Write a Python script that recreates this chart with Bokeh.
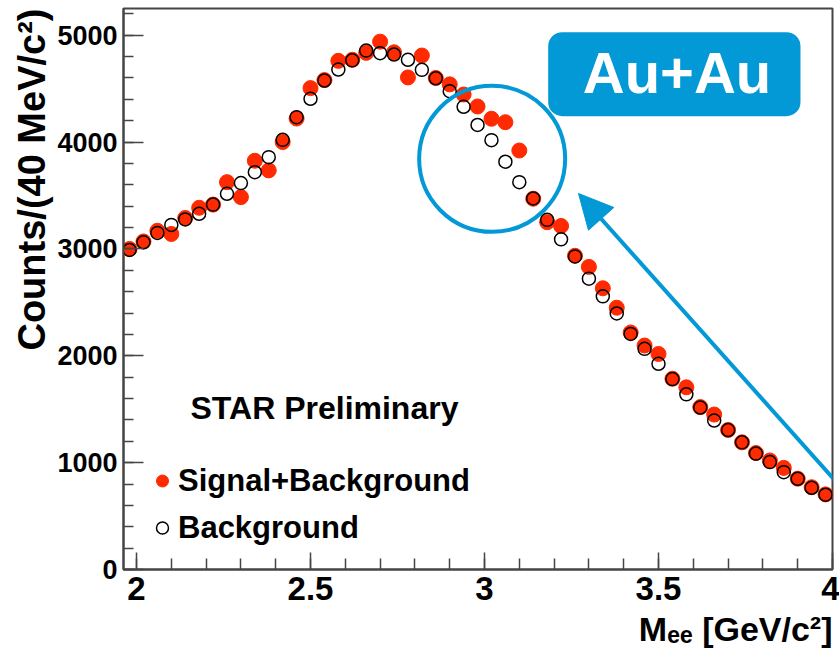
import math
from bokeh.plotting import figure
from bokeh.models import (Range1d, SingleIntervalTicker, Label, BoxAnnotation,
                          Arrow, NormalHead, Legend, LegendItem, Title)
from bokeh.embed import file_html
from bokeh.resources import INLINE

# ---- data ----
mass = [1.98, 2.02, 2.06, 2.10, 2.14, 2.18, 2.22, 2.26, 2.30, 2.34,
        2.38, 2.42, 2.46, 2.50, 2.54, 2.58, 2.62, 2.66, 2.70, 2.74,
        2.78, 2.82, 2.86, 2.90, 2.94, 2.98, 3.02, 3.06, 3.10, 3.14,
        3.18, 3.22, 3.26, 3.30, 3.34, 3.38, 3.42, 3.46, 3.50, 3.54,
        3.58, 3.62, 3.66, 3.70, 3.74, 3.78, 3.82, 3.86, 3.90, 3.94, 3.98]

signal_plus_bg = [3000, 3070, 3170, 3140, 3290, 3385, 3415, 3625, 3485, 3825,
                  3735, 4000, 4220, 4505, 4580, 4760, 4770, 4835, 4940, 4840,
                  4605, 4810, 4600, 4540, 4445, 4333, 4218, 4186, 3921, 3470,
                  3250, 3215, 2936, 2832, 2632, 2450, 2218, 2096, 2017, 1785,
                  1705, 1520, 1450, 1306, 1190, 1090, 1020, 951, 850, 770, 703]

background = [2990, 3062, 3150, 3225, 3276, 3329, 3415, 3516, 3616, 3718,
              3859, 4021, 4233, 4405, 4576, 4679, 4765, 4856, 4832, 4819,
              4770, 4676, 4597, 4476, 4330, 4160, 4018, 3816, 3625, 3472,
              3272, 3090, 2930, 2722, 2556, 2396, 2205, 2065, 1925, 1782,
              1639, 1516, 1394, 1305, 1190, 1085, 1005, 911, 849, 765, 700]

x_ticks_interval = 0.5
y_ticks_interval = 1000

RED = "#ff2a00"
BLUE = "#0398d6"
FONT = "Liberation Sans"
AXIS_COL = "#454545"

p = figure(width=839, height=659,
           x_range=Range1d(1.9626, 4.0), y_range=Range1d(0, 5250),
           output_backend="svg", toolbar_location=None,
           min_border_left=123, min_border_right=7,
           min_border_top=8, min_border_bottom=90)
p.background_fill_color = "white"
p.border_fill_color = "white"
p.outline_line_color = AXIS_COL
p.outline_line_width = 2
p.xgrid.visible = False
p.ygrid.visible = False

# axes
p.xaxis.ticker = SingleIntervalTicker(interval=x_ticks_interval, num_minor_ticks=5)
p.yaxis.ticker = SingleIntervalTicker(interval=y_ticks_interval, num_minor_ticks=5)
for ax in (p.xaxis, p.yaxis):
    ax.axis_line_color = AXIS_COL
    ax.axis_line_width = 2
    ax.major_tick_line_color = AXIS_COL
    ax.minor_tick_line_color = AXIS_COL
    ax.major_tick_line_width = 1.5
    ax.minor_tick_line_width = 1.5
    ax.major_tick_out = 0
    ax.minor_tick_out = 0
    ax.major_label_text_font = FONT
    ax.major_label_text_font_style = "bold"
    ax.major_label_text_color = "black"
p.yaxis.major_tick_in = 20
p.yaxis.minor_tick_in = 10
p.xaxis.major_tick_in = 17
p.xaxis.minor_tick_in = 11
p.yaxis.major_label_text_font_size = "27px"
p.xaxis.major_label_text_font_size = "33px"
p.yaxis.major_label_standoff = 6
p.xaxis.major_label_standoff = 7

# axis titles (outside the frame)
p.add_layout(Title(text="Counts/(40 MeV/c²)", align="right", standoff=4,
                   text_font=FONT, text_font_style="bold", text_font_size="38px",
                   text_color="black"), "left")
p.add_layout(Title(text="Mₑₑ [GeV/c²]", align="right", standoff=11,
                   text_font=FONT, text_font_style="bold", text_font_size="34px",
                   text_color="black"), "below")

# data markers
r_sb = p.scatter(mass, signal_plus_bg, marker="circle", size=15,
                 fill_color=RED, line_color=RED, line_width=1)
r_bg = p.scatter(mass, background, marker="circle", size=13,
                 fill_alpha=0, line_color="black", line_width=1.5)

# legend
legend = Legend(items=[LegendItem(label="Signal+Background", renderers=[r_sb]),
                       LegendItem(label="Background", renderers=[r_bg])],
                location=(24, 18), orientation="vertical",
                glyph_width=30, glyph_height=47, label_standoff=1,
                padding=0, margin=0, spacing=0,
                border_line_alpha=0, background_fill_alpha=0,
                label_text_font=FONT, label_text_font_style="bold",
                label_text_font_size="31px", label_text_color="black")
p.add_layout(legend, "center")

p.add_layout(Label(x=2.1552, y=1515, text="STAR Preliminary",
                   text_font=FONT, text_font_style="bold", text_font_size="32px",
                   text_color="black", text_align="left", text_baseline="alphabetic"))

# highlight circle
circle_x, circle_y = [3.022], [3843]
p.circle(circle_x, circle_y, radius=73, radius_units="screen",
         fill_alpha=0, line_color=BLUE, line_width=4)

# arrow
p.add_layout(Arrow(end=NormalHead(size=34, fill_color=BLUE, line_color=BLUE),
                   x_start=4.0201, y_start=786, x_end=3.2701, y_end=3519,
                   line_color=BLUE, line_width=4))

# Au+Au box
p.add_layout(BoxAnnotation(left=3.183, right=3.908, bottom=4242, top=5028,
                           fill_color=BLUE, fill_alpha=1, line_alpha=0,
                           border_radius=14))
p.add_layout(Label(x=3.5532, y=4651, text="Au+Au", text_font=FONT,
                   text_font_style="bold", text_font_size="58px",
                   text_color="white", text_align="center",
                   text_baseline="alphabetic"))

open("out.html", "w").write(file_html(p, INLINE))
